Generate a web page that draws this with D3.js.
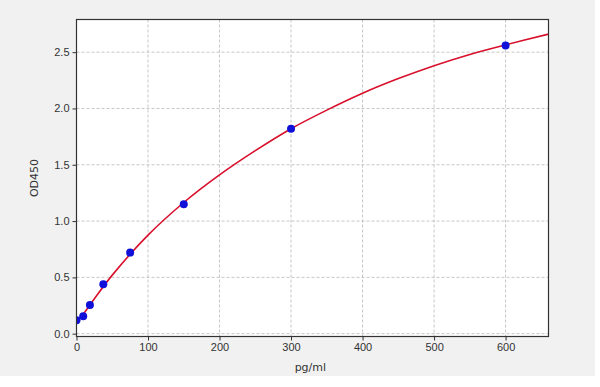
<!DOCTYPE html>
<html>
<head>
<meta charset="utf-8">
<script src="https://cdn.jsdelivr.net/npm/d3@7"></script>
<style>
  body { margin: 0; background: #fff; }
  svg { display: block; font-family: "DejaVu Sans", sans-serif; }
</style>
</head>
<body>
<div id="chart"></div>
<script>
// standard points
const concX = [0, 9.375, 18.75, 37.5, 75, 150, 300, 600];
const odY = [0.12, 0.155, 0.255, 0.44, 0.72, 1.15, 1.82, 2.56];

// fitted curve
const fitX = [0, 12.5, 25, 50, 100, 150, 200, 250, 300, 350, 400, 450, 500, 550, 600, 660];
const fitY = [0.11, 0.2, 0.31, 0.52, 0.875, 1.165, 1.41, 1.625, 1.82, 1.985, 2.135, 2.265, 2.38, 2.48, 2.565, 2.66];

const xTicks = [0, 100, 200, 300, 400, 500, 600];
const yTicks = [0.0, 0.5, 1.0, 1.5, 2.0, 2.5];

const W = 600, H = 387;
const margin = { top: 19.5, right: 51.5, bottom: 50.5, left: 76.5 };
const width = W - margin.left - margin.right,
      height = H - margin.top - margin.bottom;

const svg = d3.select("#chart").append("svg")
  .attr("width", W).attr("height", H);

// grey photo background
svg.append("rect").attr("width", 595).attr("height", 376).attr("fill", "#f1f1f1");

const g = svg.append("g")
  .attr("transform", "translate(" + margin.left + "," + margin.top + ")");

const x = d3.scaleLinear().domain([0, 660]).range([0, width]);
const y = d3.scaleLinear().domain([-0.025, 2.79]).range([height, 0]);

g.append("rect").attr("width", width).attr("height", height).attr("fill", "#fff");

// grid
g.append("g").selectAll("line").data(xTicks.slice(1)).enter().append("line")
  .attr("x1", d => x(d)).attr("x2", d => x(d))
  .attr("y1", 0).attr("y2", height)
  .attr("stroke", "#b8b8b8").attr("stroke-width", 0.8).attr("stroke-dasharray", "3,2");
g.append("g").selectAll("line").data(yTicks).enter().append("line")
  .attr("x1", 0).attr("x2", width)
  .attr("y1", d => y(d)).attr("y2", d => y(d))
  .attr("stroke", "#b8b8b8").attr("stroke-width", 0.8).attr("stroke-dasharray", "3,2");

// curve
const clip = g.append("clipPath").attr("id", "clip");
clip.append("rect").attr("width", width).attr("height", height);

const line = d3.line().x((d, i) => x(fitX[i])).y(d => y(d)).curve(d3.curveCatmullRom.alpha(0.5));
g.append("path")
  .datum(fitY)
  .attr("clip-path", "url(#clip)")
  .attr("d", line)
  .attr("fill", "none")
  .attr("stroke", "#d8102c")
  .attr("stroke-width", 1.6);

// points
g.append("g").selectAll("circle").data(odY).enter().append("circle")
  .attr("clip-path", "url(#clip)")
  .attr("cx", (d, i) => x(concX[i]))
  .attr("cy", d => y(d))
  .attr("r", 4)
  .attr("fill", "#1010d8");

// axes
const xAxis = g.append("g")
  .attr("transform", "translate(0," + height + ")")
  .call(d3.axisBottom(x).tickValues(xTicks).tickFormat(d3.format("d")).tickSize(4).tickPadding(3).tickSizeOuter(0));
const yAxis = g.append("g")
  .call(d3.axisLeft(y).tickValues(yTicks).tickFormat(d3.format(".1f")).tickSize(4).tickPadding(3).tickSizeOuter(0));

[xAxis, yAxis].forEach(a => {
  a.select(".domain").remove();
  a.selectAll("line").attr("stroke", "#333");
  a.selectAll("text").attr("fill", "#333").style("font-size", "11px");
});

// frame
g.append("rect").attr("width", width).attr("height", height)
  .attr("fill", "none").attr("stroke", "#333").attr("stroke-width", 1.2);

// labels
svg.append("text")
  .attr("x", margin.left + x(327)).attr("y", 371)
  .attr("text-anchor", "middle").attr("fill", "#333").style("font-size", "11px")
  .text("pg/ml");
svg.append("text")
  .attr("transform", "translate(38," + (margin.top + height / 2) + ") rotate(-90)")
  .attr("text-anchor", "middle").attr("fill", "#333").style("font-size", "11px")
  .text("OD450");
</script>
</body>
</html>
